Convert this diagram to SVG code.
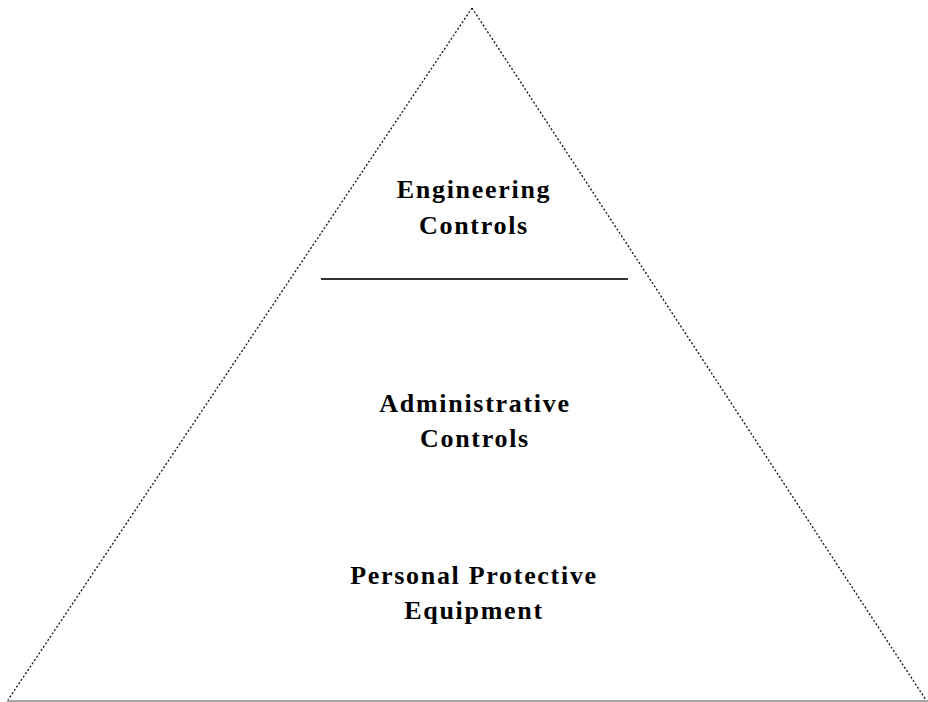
<svg xmlns="http://www.w3.org/2000/svg" width="928" height="702" viewBox="0 0 928 702">
<style>
.lbl{font-family:"Liberation Serif","Times New Roman",serif;font-weight:bold;font-size:26px;letter-spacing:1.7px;fill:#000;text-anchor:middle}
.side{stroke:#111;stroke-width:1.3;stroke-dasharray:2 2;fill:none}
</style>
<rect width="928" height="702" fill="#fff"/>
<g id="pyramid">
<line class="side" x1="472" y1="8" x2="8" y2="700"/>
<line class="side" x1="472" y1="8" x2="926" y2="700"/>
<line x1="7" y1="701" x2="928" y2="701" stroke="#888" stroke-width="1.5"/>
<line x1="321" y1="279" x2="628" y2="279" stroke="#333" stroke-width="2.2"/>
</g>
<g id="engineering">
<text class="lbl" x="474" y="198">Engineering</text>
<text class="lbl" x="474" y="234">Controls</text>
</g>
<g id="administrative">
<text class="lbl" x="475" y="412">Administrative</text>
<text class="lbl" x="475" y="447">Controls</text>
</g>
<g id="ppe">
<text class="lbl" x="474" y="584">Personal Protective</text>
<text class="lbl" x="474" y="619">Equipment</text>
</g>
</svg>
